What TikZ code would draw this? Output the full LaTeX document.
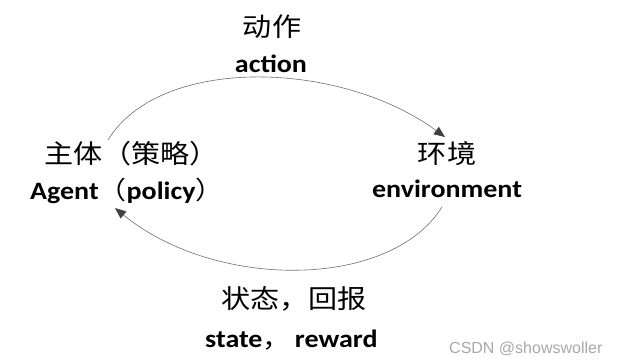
\documentclass[tikz,border=0pt]{standalone}
\usepackage{fontspec}
\usepackage{graphicx}
\setmainfont{Carlito}
\newfontfamily\cjk{Noto Sans CJK SC}
\newfontfamily\wm{Liberation Sans}
\usetikzlibrary{arrows.meta}
\definecolor{arcgray}{HTML}{6E6E6E}
\definecolor{tipgray}{HTML}{404040}
\definecolor{wmgray}{HTML}{A8A8A8}
\tikzset{
  cn/.style={inner sep=0pt, font=\cjk\fontsize{26}{26}\selectfont},
  en/.style={inner sep=0pt, font=\bfseries\fontsize{25}{25}\selectfont},
  flow/.style={draw=arcgray, line width=0.6pt, -{Triangle[length=11pt,width=9pt,color=tipgray]}},
  wmark/.style={inner sep=0pt, anchor=base west, text=wmgray, font=\wm\fontsize{16}{16}\selectfont},
}
\newcommand{\hs}[1]{\scalebox{1.12}[1]{#1}}
\newcommand{\cjkmd}[1]{{\cjk\mdseries #1}}
\begin{document}
\begin{tikzpicture}[x=1pt,y=-1pt]
\useasboundingbox (0,0) rectangle (617,362);
% labels
\node[cn, anchor=base] (actcn) at (272,36) {\hs{动作}};
\node[en, anchor=base] (acten) at (271,72) {\hs{action}};
\node[cn, anchor=base west] (agcn) at (44,163) {\hs{主体（策略）}};
\node[en, anchor=base west] (agen) at (30,199) {\hs{Agent\cjkmd{（}policy\cjkmd{）}}};
\node[cn, anchor=base] (envcn) at (447,163) {\hs{环境}};
\node[en, anchor=base] (enven) at (447,197) {\hs{environment}};
\node[cn, anchor=base west] (stcn) at (221,308) {\hs{状态，回报}};
\node[en, anchor=base west] (sten) at (205,347) {\hs{state\cjkmd{，}\kern4pt reward}};
\node[wmark] (wm) at (449,353) {CSDN @showswoller};
% connector ends
\coordinate (actS) at (108,140);
\coordinate (actE) at (445,137);
\coordinate (stS) at (442,207);
\coordinate (stE) at (115,208);
% connectors
\draw[flow] (actS) .. controls (160,55) and (340,60) .. (actE);
\draw[flow] (stS) .. controls (390,290) and (215,290) .. (stE);
\end{tikzpicture}
\end{document}
